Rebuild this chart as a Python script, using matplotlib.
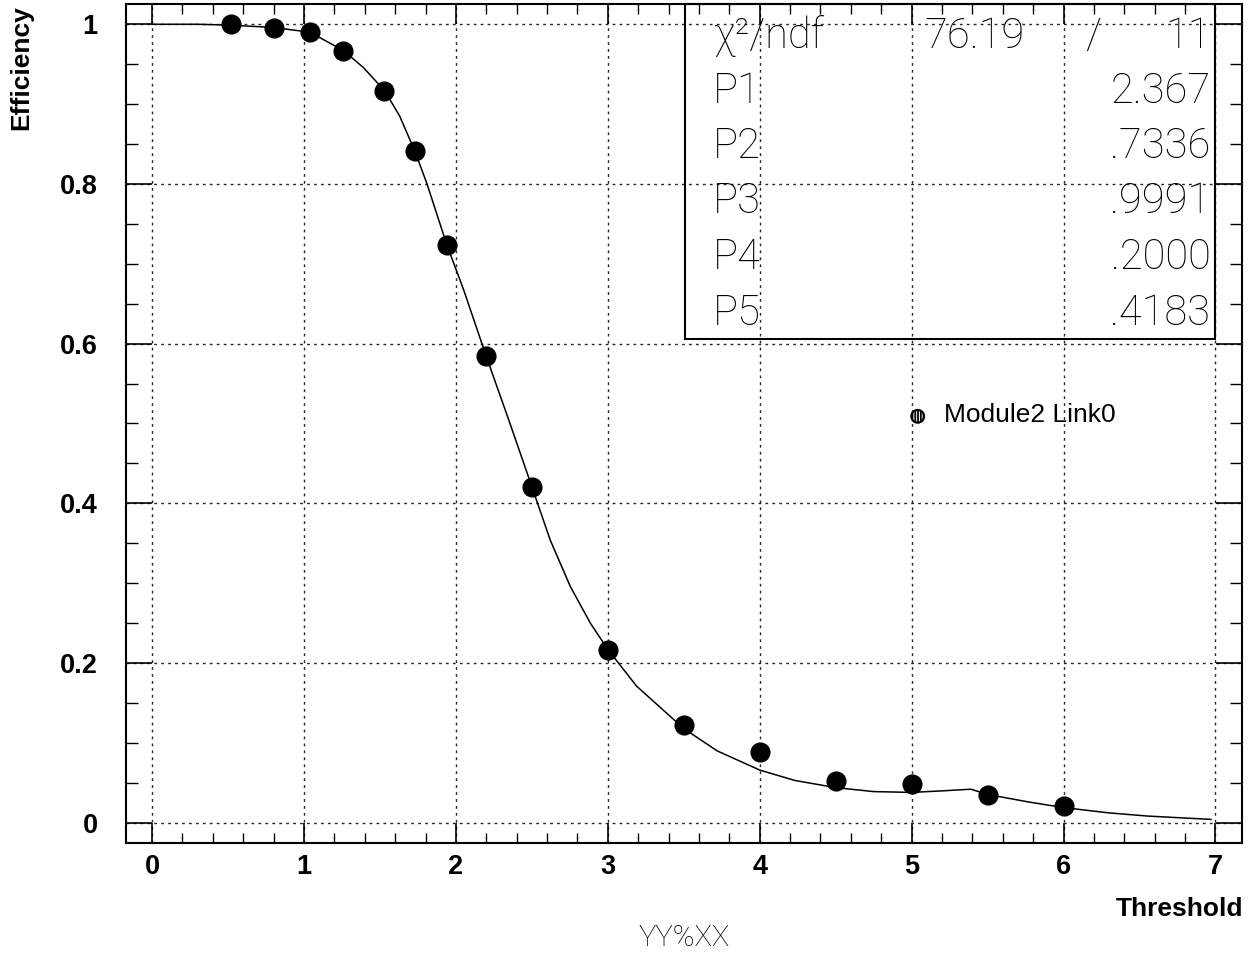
import matplotlib
matplotlib.use("Agg")
import matplotlib.pyplot as plt
from matplotlib.patches import Rectangle
from matplotlib.ticker import MultipleLocator, FuncFormatter

# measured efficiency points
thr = [0.52, 0.80, 1.04, 1.26, 1.53, 1.73, 1.94, 2.20, 2.50, 3.00,
       3.50, 4.00, 4.50, 5.00, 5.50, 6.00]
eff = [1.000, 0.995, 0.990, 0.967, 0.917, 0.841, 0.724, 0.584, 0.421, 0.216,
       0.122, 0.088, 0.052, 0.049, 0.035, 0.021]

# fit curve
fit_x = [0.00, 0.30, 0.50, 0.80, 1.04, 1.26, 1.39, 1.53, 1.63, 1.73, 1.81,
         1.94, 2.05, 2.20, 2.347, 2.50, 2.621, 2.753, 2.885, 3.00,
         3.19, 3.50, 3.72, 4.00, 4.23, 4.50, 4.75, 5.00, 5.21, 5.39, 5.44,
         5.57, 5.77, 6.00, 6.29, 6.55, 6.97]
fit_y = [1.000, 1.000, 0.999, 0.996, 0.990, 0.967, 0.946, 0.917, 0.885, 0.841,
         0.800, 0.724, 0.668, 0.584, 0.505, 0.421, 0.354, 0.296, 0.250, 0.217,
         0.171, 0.118, 0.090, 0.066, 0.053, 0.044, 0.039, 0.038,
         0.040, 0.042, 0.039, 0.033, 0.026, 0.019, 0.0125, 0.0084, 0.0042]

stat_names = ["χ²/ndf", "P1", "P2", "P3", "P4", "P5"]
stat_vals = ["11", "2.367", ".7336", ".9991", ".2000", ".4183"]
chi2 = "76.19"
series_label = "Module2 Link0"

W, H = 1252, 956
BOLD = ['Liberation Sans', 'DejaVu Sans']
THIN = ['Roboto', 'DejaVu Sans']
plt.rcParams['hatch.linewidth'] = 1.3

fig = plt.figure(figsize=(W / 100, H / 100), dpi=100)
# frame: left 125.5 px, right 1242 px, top 4.3 px, bottom 842.7 px
ax = fig.add_axes([125.5 / W, 1 - 842.7 / H, (1242 - 125.5) / W, (842.7 - 4.3) / H])
ax.set_xlim(-0.175, 7.175)
ax.set_ylim(-0.025, 1.025)

ax.xaxis.set_major_locator(MultipleLocator(1))
ax.xaxis.set_minor_locator(MultipleLocator(0.2))
ax.yaxis.set_major_locator(MultipleLocator(0.2))
ax.yaxis.set_minor_locator(MultipleLocator(0.05))
ax.yaxis.set_major_formatter(FuncFormatter(lambda v, p: f"{v:g}"))

ax.grid(True, which='major', color='0.15', lw=1.0, ls=(0, (2, 3)))
ax.tick_params(axis='x', which='major', direction='in', length=14.4, width=1.2,
               top=True, bottom=True, pad=8, labelsize=19.5)
ax.tick_params(axis='x', which='minor', direction='in', length=7.2, width=1.0,
               top=True, bottom=True)
ax.tick_params(axis='y', which='major', direction='in', length=18.5, width=1.2,
               left=True, right=True, pad=20, labelsize=19.5)
ax.tick_params(axis='y', which='minor', direction='in', length=8.6, width=1.0,
               left=True, right=True)
for lab in ax.get_xticklabels() + ax.get_yticklabels():
    lab.set_fontfamily(BOLD)
    lab.set_fontweight('bold')
for s in ax.spines.values():
    s.set_linewidth(1.5)

ax.plot(fit_x, fit_y, '-', color='black', lw=1.1, zorder=3)
ax.plot(thr, eff, 'o', color='black', ms=13.5, zorder=4)

# legend-like marker and label
ax.scatter([5.04], [0.509], s=85, facecolor='white', edgecolor='black',
           hatch='||||||', lw=1.5, zorder=4)
ax.text(5.21, 0.511, series_label, fontsize=19, family=BOLD, ha='left', va='center')

# stats box
ax.add_patch(Rectangle((3.51, 0.606), 7.0 - 3.51, 1.025 - 0.606, fill=False,
                       lw=1.5, color='black', zorder=5, clip_on=False))
row_y = [0.985, 0.916, 0.847, 0.778, 0.708, 0.638]
for i, name in enumerate(stat_names):
    ax.text(3.694, row_y[i], name, fontsize=30, family=THIN, fontweight='light',
            ha='left', va='center', color='black')
    ax.text(6.967, row_y[i], stat_vals[i], fontsize=30, family=THIN,
            fontweight='light', ha='right', va='center', color='black')
ax.text(5.742, row_y[0], chi2, fontsize=30, family=THIN, fontweight='light',
        ha='right', va='center', color='black')
ax.text(6.197, row_y[0], "/", fontsize=30, family=THIN, fontweight='light',
        ha='center', va='center', color='black')

fig.text(21 / W, 1 - 5 / H, "Efficiency", rotation=90, fontsize=19, family=BOLD,
         fontweight='bold', ha='center', va='top')
fig.text(1243 / W, 1 - 909 / H, "Threshold", fontsize=19, family=BOLD,
         fontweight='bold', ha='right', va='center')
fig.text(684 / W, 1 - 938 / H, "YY%XX", fontsize=21, family=THIN,
         fontweight='light', ha='center', va='center', color='black')

fig.savefig("out.png", dpi=100)
